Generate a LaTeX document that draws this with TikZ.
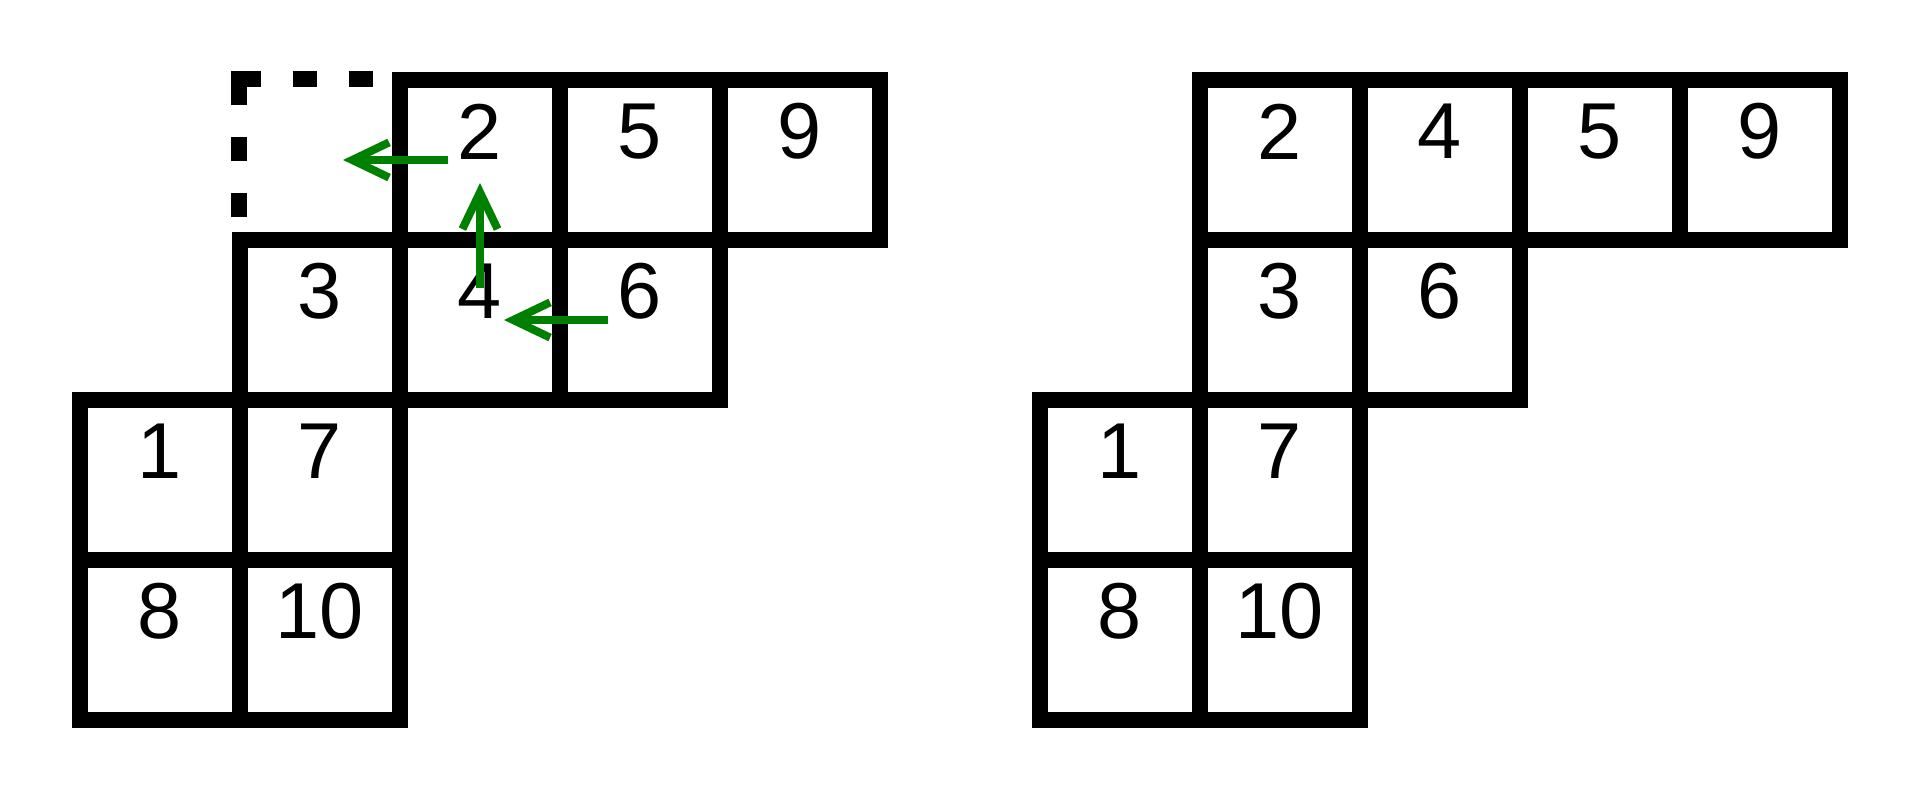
\documentclass[tikz,border=0pt]{standalone}
\usepackage{fontspec}
\setmainfont{Liberation Sans}
\usetikzlibrary{arrows.meta,calc}
\definecolor{arrowgreen}{RGB}{0,128,0}
\begin{document}
\begin{tikzpicture}[x=1cm,y=1cm,
  num/.style={font=\fontsize{14.1}{17}\selectfont, yshift=0.178cm, inner sep=0pt},
  cell/.style={draw=black, line width=0.1cm, minimum size=1cm, inner sep=0pt, label={[num]center:#1}},
  ghost/.style={minimum size=1cm, inner sep=0pt},
  dashedge/.style={line width=0.1cm, line join=miter,
    dash pattern=on 0.15cm off 0.2cm on 0.15cm off 0.2cm on 0.3cm off 0.2cm on 0.15cm off 0.2cm on 0.15cm off 0.3cm,
    dash phase=1.85cm},
  garrow/.style={draw=arrowgreen, line width=0.05cm, -{Straight Barb[sharp, length=0.23cm, width=0.22cm]}}]
\useasboundingbox (0,0) rectangle (12,-5);
% left diagram
\node[ghost] (Ld) at (2,-1) {};
\draw[dashedge] (Ld.south west) -- (Ld.north west) -- (Ld.north east);
\node[cell=2]  (L2)  at (3,-1) {};
\node[cell=5]  (L5)  at (4,-1) {};
\node[cell=9]  (L9)  at (5,-1) {};
\node[cell=3]  (L3)  at (2,-2) {};
\node[cell=4]  (L4)  at (3,-2) {};
\node[cell=6]  (L6)  at (4,-2) {};
\node[cell=1]  (L1)  at (1,-3) {};
\node[cell=7]  (L7)  at (2,-3) {};
\node[cell=8]  (L8)  at (1,-4) {};
\node[cell=10] (L10) at (2,-4) {};
% right diagram
\node[cell=2]  (R2)  at (8,-1) {};
\node[cell=4]  (R4)  at (9,-1) {};
\node[cell=5]  (R5)  at (10,-1) {};
\node[cell=9]  (R9)  at (11,-1) {};
\node[cell=3]  (R3)  at (8,-2) {};
\node[cell=6]  (R6)  at (9,-2) {};
\node[cell=1]  (R1)  at (7,-3) {};
\node[cell=7]  (R7)  at (8,-3) {};
\node[cell=8]  (R8)  at (7,-4) {};
\node[cell=10] (R10) at (8,-4) {};
% green arrows
\coordinate (a1s) at ($(L2.center)+(-0.2,0)$);
\coordinate (a1e) at ($(Ld.center)+(0.144,0)$);
\coordinate (a2s) at ($(L4.center)+(0,0.2)$);
\coordinate (a2e) at ($(L2.center)+(0,-0.144)$);
\coordinate (a3s) at ($(L6.center)+(-0.2,0)$);
\coordinate (a3e) at ($(L4.center)+(0.15,0)$);
\draw[garrow] (a1s) -- (a1e);
\draw[garrow] (a2s) -- (a2e);
\draw[garrow] (a3s) -- (a3e);
\end{tikzpicture}
\end{document}
